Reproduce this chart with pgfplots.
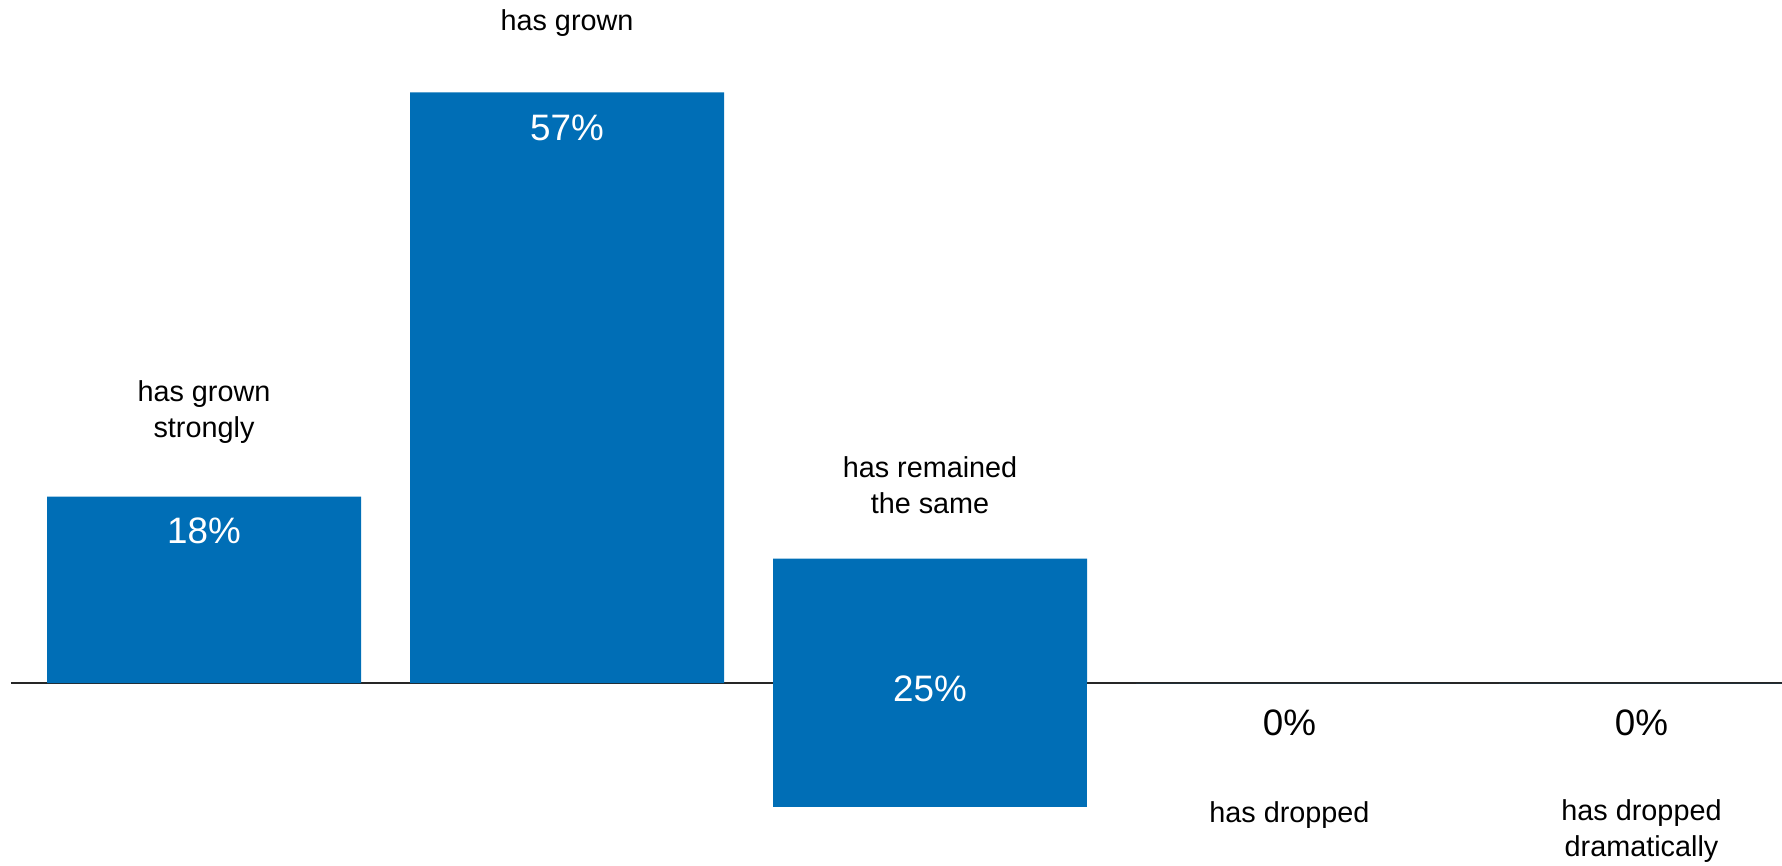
\documentclass[border=0pt]{standalone}
\usepackage{pgfplots}
\pgfplotsset{compat=1.18}
\usepackage{fontspec}
\setmainfont{Liberation Sans}
\definecolor{barblue}{RGB}{0,110,182}
\begin{document}
\begin{tikzpicture}
\begin{axis}[
  name=ax,
  scale only axis,
  width=891pt, height=433pt,
  xmin=-0.562, xmax=4.347,
  ymin=-17.66, ymax=65.93,
  hide axis,
  clip mode=individual,
]
% baseline
\addplot[black!85, line width=0.9pt, sharp plot, no marks, forget plot]
  coordinates {(-0.532,0) (4.347,0)};
% bars
\addplot[ybar, bar width=157pt, bar shift=0pt, fill=barblue, draw=none]
  coordinates {(0,18) (1,57) (2,12) (3,0) (4,0)};
\addplot[ybar, bar width=157pt, bar shift=0pt, fill=barblue, draw=none]
  coordinates {(2,-12)};
% value labels
\begin{scope}[every node/.style={inner sep=0pt, font=\fontsize{18.4}{22}\selectfont}]
\node[white] at (axis cs:0,14.67) {18\%};
\node[white] at (axis cs:1,53.57) {57\%};
\node[white] at (axis cs:2,-0.58) {25\%};
\node[black] at (axis cs:2.99,-3.86) {0\%};
\node[black] at (axis cs:3.96,-3.86) {0\%};
\end{scope}
% category labels
\begin{scope}[every node/.style={inner sep=0pt, align=center, font=\fontsize{14.4}{18}\selectfont}]
\node at (axis cs:0,26.2) {has grown\\strongly};
\node at (axis cs:1,63.7) {has grown};
\node at (axis cs:2,19.06) {has remained\\the same};
\node at (axis cs:2.99,-12.74) {has dropped};
\node at (axis cs:3.96,-14.33) {has dropped\\dramatically};
\end{scope}
\end{axis}
\pgfresetboundingbox
\path[use as bounding box] (ax.south west) rectangle (ax.north east);
\end{tikzpicture}
\end{document}
